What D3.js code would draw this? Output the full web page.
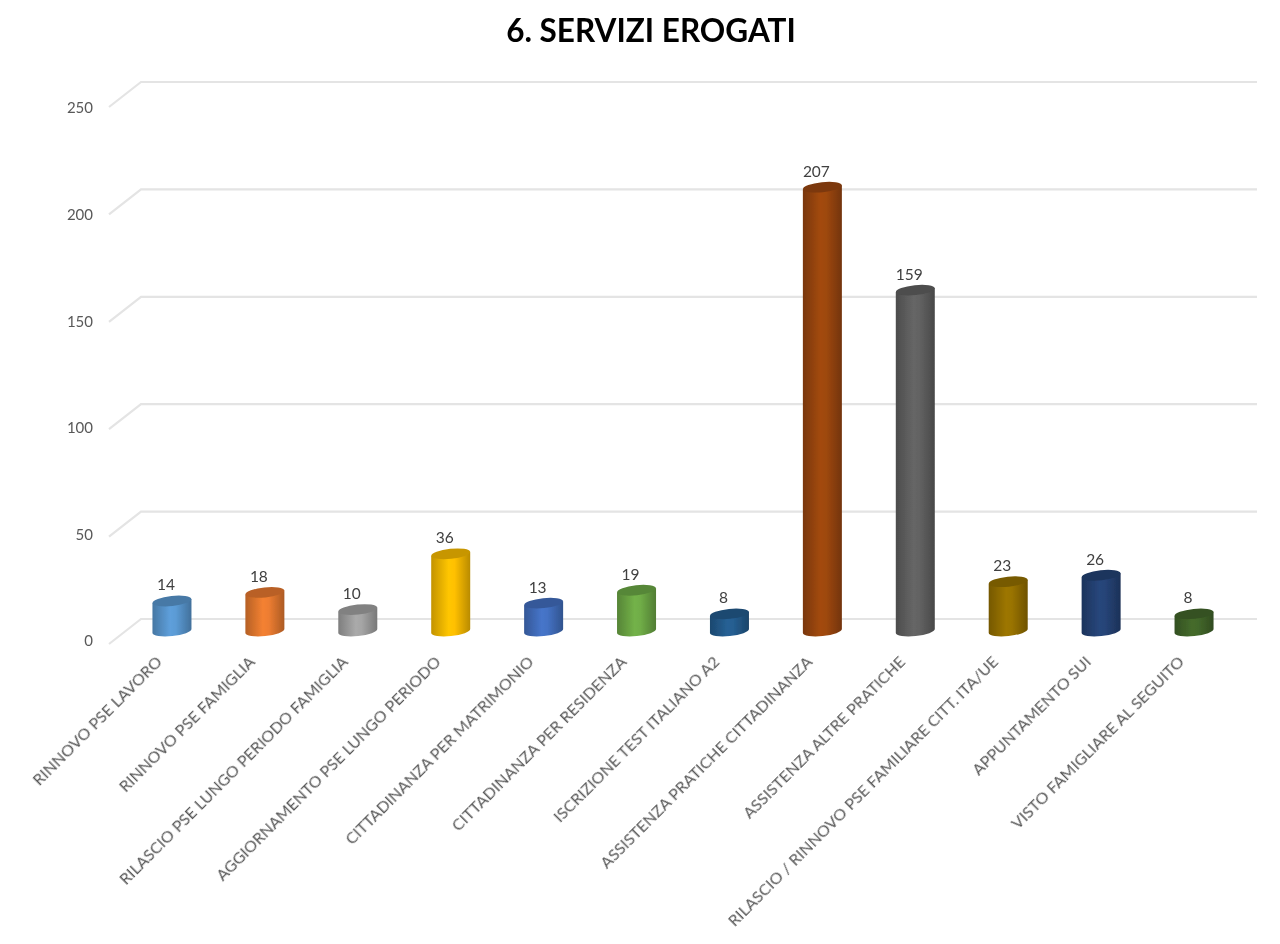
<!DOCTYPE html>
<html>
<head>
<meta charset="utf-8">
<script src="https://cdn.jsdelivr.net/npm/d3@7"></script>
<style>
  html, body { margin: 0; background: #fff; }
  text { font-family: Lato, "Open Sans", sans-serif; }
</style>
</head>
<body>
<div id="chart"></div>
<script>
const categories = [
  "RINNOVO PSE LAVORO",
  "RINNOVO PSE FAMIGLIA",
  "RILASCIO PSE LUNGO PERIODO FAMIGLIA",
  "AGGIORNAMENTO PSE LUNGO PERIODO",
  "CITTADINANZA PER MATRIMONIO",
  "CITTADINANZA PER RESIDENZA",
  "ISCRIZIONE TEST ITALIANO A2",
  "ASSISTENZA PRATICHE CITTADINANZA",
  "ASSISTENZA ALTRE PRATICHE",
  "RILASCIO / RINNOVO PSE FAMILIARE CITT. ITA/UE",
  "APPUNTAMENTO SUI",
  "VISTO FAMIGLIARE AL SEGUITO"
];
const values = [14, 18, 10, 36, 13, 19, 8, 207, 159, 23, 26, 8];
const yTicks = [0, 50, 100, 150, 200, 250];
const palette = ["#5B9BD5", "#ED7D31", "#A5A5A5", "#FFC000", "#4472C4", "#70AD47",
                 "#255E91", "#9E480E", "#636363", "#997300", "#264478", "#43682B"];
const chartTitle = "6. SERVIZI EROGATI";

const width = 1280, height = 944;

const svg = d3.select("#chart").append("svg")
  .attr("width", width)
  .attr("height", height)
  .style("display", "block");

// back wall of the 3d chart
const yWall = d3.scaleLinear().domain([0, 250]).range([619, 82]);
// front edge, where the tick labels sit
const yFront = d3.scaleLinear().domain([0, 250]).range([641, 108]);
// bars stand between wall and front edge
const yBar = d3.scaleLinear().domain([0, 250]).range([631, 95]);
const x = d3.scaleBand().domain(categories).range([125.5, 1240.5]).paddingInner(0).paddingOuter(0);

const defs = svg.append("defs");
defs.append("filter").attr("id", "soft")
  .append("feGaussianBlur").attr("stdDeviation", 0.45);
defs.append("filter").attr("id", "softText")
  .attr("x", "-5%").attr("y", "-5%").attr("width", "110%").attr("height", "110%")
  .append("feGaussianBlur").attr("stdDeviation", 0.35);

svg.append("text")
  .attr("x", 651)
  .attr("y", 42)
  .attr("text-anchor", "middle")
  .attr("font-size", 31.5)
  .attr("font-weight", 700)
  .attr("fill", "#000")
  .attr("filter", "url(#softText)")
  .text(chartTitle);

// grid
const grid = svg.append("g");
grid.selectAll("path")
  .data(yTicks)
  .enter().append("path")
  .attr("d", d => `M109,${yWall(d) + 25}L141,${yWall(d)}L1257,${yWall(d)}`)
  .attr("fill", "none")
  .attr("stroke", "#e4e4e4")
  .attr("stroke-width", 2.2);

// y axis labels
const yAxis = svg.append("g")
  .attr("transform", "translate(93,0)")
  .call(d3.axisLeft(yFront).tickValues(yTicks).tickSize(0).tickPadding(0));
yAxis.select(".domain").remove();
yAxis.selectAll("text")
  .attr("font-size", 15)
  .attr("font-family", "Lato, sans-serif")
  .attr("fill", "#595959")
  .attr("filter", "url(#softText)");

// gradients for the cylinder bodies
const grads = defs.selectAll("linearGradient")
  .data(palette)
  .enter().append("linearGradient")
  .attr("id", (d, i) => "bar" + i)
  .attr("x1", 0).attr("x2", 1).attr("y1", 0).attr("y2", 0);
grads.append("stop").attr("offset", "0%").attr("stop-color", d => d3.color(d).darker(0.75));
grads.append("stop").attr("offset", "45%").attr("stop-color", d => d3.color(d).brighter(0.08));
grads.append("stop").attr("offset", "60%").attr("stop-color", d => d);
grads.append("stop").attr("offset", "100%").attr("stop-color", d => d3.color(d).darker(0.9));

const barR = 19.5, barRy = 5, tilt = 2;

const bars = svg.selectAll("g.bar")
  .data(categories.map((c, i) => ({ c, v: values[i], i })))
  .enter().append("g")
  .attr("class", "bar")
  .attr("filter", "url(#soft)");

const cx = d => x(d.c) + x.bandwidth() / 2;

bars.append("path")
  .attr("d", d => {
    const t = yBar(d.v), b = yBar(0);
    return `M${cx(d) - barR},${t + tilt}L${cx(d) - barR},${b + tilt}` +
      `A${barR},${barRy} -6 0 0 ${cx(d) + barR},${b - tilt}` +
      `L${cx(d) + barR},${t - tilt}Z`;
  })
  .attr("fill", d => `url(#bar${d.i})`);

bars.append("ellipse")
  .attr("cx", cx)
  .attr("cy", d => yBar(d.v))
  .attr("rx", barR)
  .attr("ry", barRy)
  .attr("transform", d => `rotate(-6,${cx(d)},${yBar(d.v)})`)
  .attr("fill", d => d3.color(palette[d.i]).darker(0.7));

// value labels
svg.selectAll("text.value")
  .data(values)
  .enter().append("text")
  .attr("class", "value")
  .attr("x", (d, i) => x(categories[i]) + x.bandwidth() / 2 - 6)
  .attr("y", d => yBar(d) - 10.5)
  .attr("text-anchor", "middle")
  .attr("font-size", 15.5)
  .attr("fill", "#404040")
  .attr("filter", "url(#softText)")
  .text(d => d);

// rotated category labels
svg.selectAll("text.cat")
  .data(categories)
  .enter().append("text")
  .attr("class", "cat")
  .attr("text-anchor", "end")
  .attr("font-size", 16)
  .attr("fill", "#595959")
  .attr("filter", "url(#softText)")
  .attr("transform", d => `translate(${x(d) + x.bandwidth() / 2 - 9},${663}) rotate(-45)`)
  .text(d => d);
</script>
</body>
</html>
